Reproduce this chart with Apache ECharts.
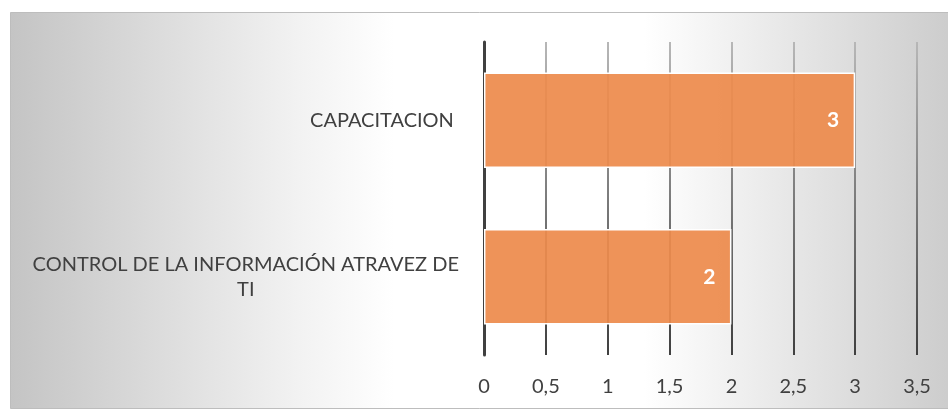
<!DOCTYPE html>
<html>
<head>
<meta charset="utf-8">
<script src="https://cdn.jsdelivr.net/npm/echarts@6/dist/echarts.min.js"></script>
<style>
html,body{margin:0;padding:0;background:#fff;}
#chart{width:948px;height:409px;}
</style>
</head>
<body>
<div id="chart"></div>
<script>
// Data (bottom to top, as the category axis draws them)
var categories = ['CONTROL DE LA INFORMACIÓN ATRAVEZ DE\nTI', 'CAPACITACION '];
var values = [2, 3];
var tickMin = 0, tickMax = 3.5, tickStep = 0.5;

var chart = echarts.init(document.getElementById('chart'), null, {renderer: 'canvas'});
var FONT = 'Lato';
var option = {
  animation: false,
  graphic: [{
    type: 'rect',
    z: -10,
    silent: true,
    shape: {x: 10.5, y: 12.5, width: 960, height: 396},
    style: {
      stroke: '#bdbdbd',
      lineWidth: 1,
      fill: new echarts.graphic.LinearGradient(0, 0, 1, 0, [
        {offset: 0, color: '#c4c4c4'},
        {offset: 0.3, color: '#f2f2f2'},
        {offset: 0.4, color: '#ffffff'},
        {offset: 0.66, color: '#ffffff'},
        {offset: 1, color: '#c9c9c9'}
      ])
    }
  }],
  grid: {left: 484, right: 31, top: 42, bottom: 54, containLabel: false},
  xAxis: {
    type: 'value',
    min: tickMin, max: tickMax, interval: tickStep,
    axisLine: {show: false},
    axisTick: {show: false},
    axisLabel: {
      margin: 22,
      fontFamily: FONT, fontSize: 20, color: '#404040',
      formatter: function (v) { return String(v).replace('.', ','); }
    },
    splitLine: {
      show: true,
      lineStyle: {
        width: 2,
        color: new echarts.graphic.LinearGradient(0, 0, 0, 1, [
          {offset: 0, color: '#b8b8b8'},
          {offset: 1, color: '#3f3f3f'}
        ])
      }
    }
  },
  yAxis: {
    type: 'category',
    data: categories,
    axisLine: {show: true, lineStyle: {color: '#404040', width: 3}},
    axisTick: {show: false},
    axisLabel: {
      margin: 25,
      color: '#404040',
      fontFamily: FONT,
      fontSize: 20,
      lineHeight: 25,
      formatter: function (v) {
        var parts = v.split('\n');
        return parts.map(function (p) { return '{c|' + p + '}'; }).join('\n');
      },
      rich: {
        c: {align: 'center', fontFamily: FONT, fontSize: 20, color: '#404040', lineHeight: 25}
      }
    }
  },
  series: [{
    type: 'bar',
    data: values,
    barCategoryGap: '39%',
    itemStyle: {color: 'rgba(237,139,76,0.93)', borderColor: '#ffffff', borderWidth: 1.5},
    label: {
      show: true,
      position: 'insideRight',
      distance: 16,
      color: '#ffffff',
      fontFamily: FONT,
      fontWeight: 'bold',
      fontSize: 21
    }
  }]
};
chart.setOption(option);
</script>
</body>
</html>
